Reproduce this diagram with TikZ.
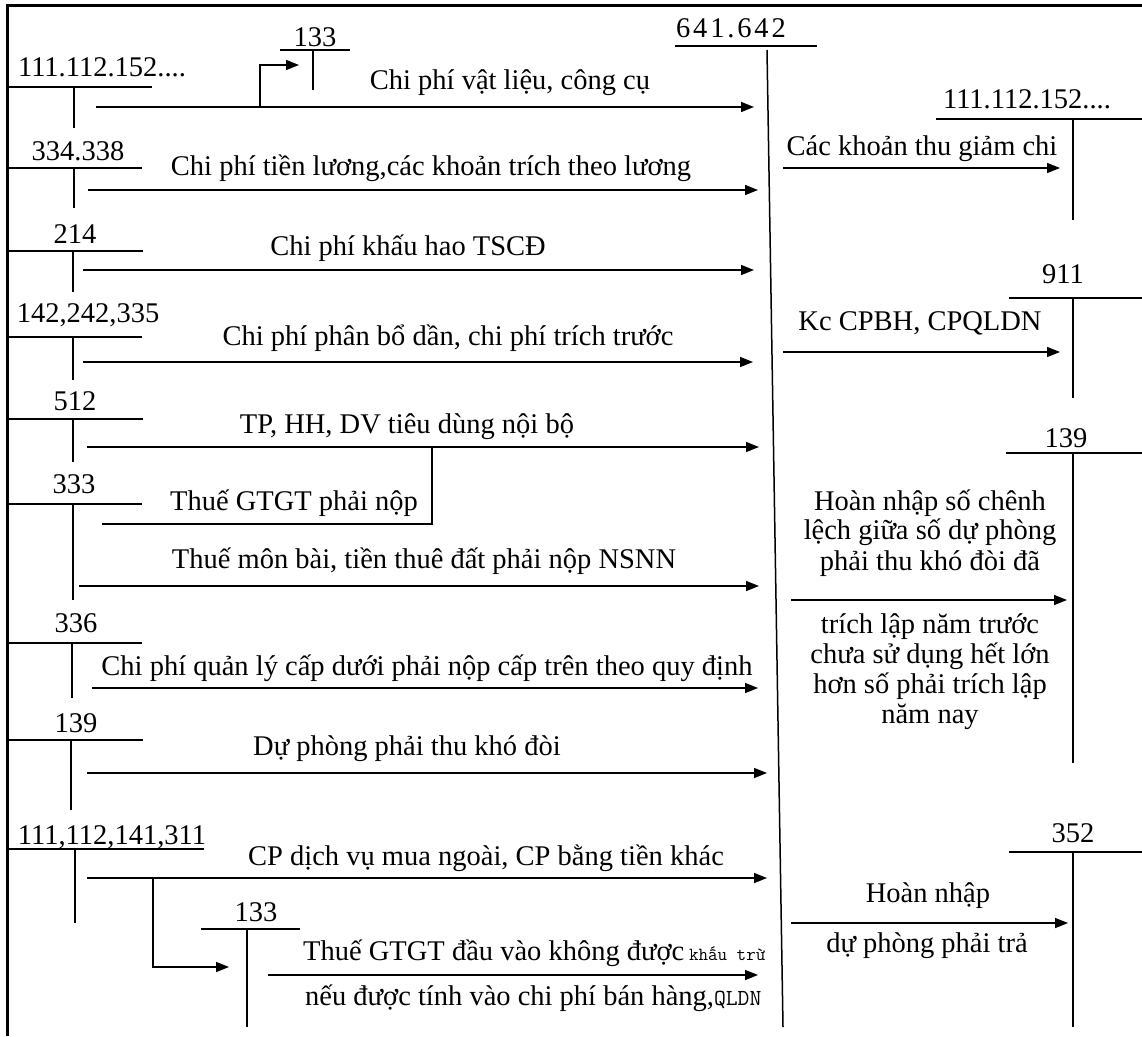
\documentclass[tikz,border=0pt]{standalone}
\usepackage{fontspec}
\setmainfont{Liberation Serif}
\newfontfamily\monofnt{Latin Modern Mono}
\usetikzlibrary{arrows.meta}
\begin{document}
\begin{tikzpicture}[x=1pt,y=-1pt,
  ln/.style={line width=1.5pt},
  arr/.style={line width=1.5pt,-{Triangle[length=13pt,width=10pt]}},
  lbl/.style={font=\fontsize{28.5}{30}\selectfont, inner sep=0pt, anchor=base},
  frameline/.style={line width=3.5pt}
]
\useasboundingbox (0,0) rectangle (1142,1036);
% frame
\coordinate (fBL) at (7.5,1036); \coordinate (fTL) at (7.5,5.5); \coordinate (fTR) at (1142,5.5);
\draw[frameline] (fBL) -- (fTL) -- (fTR);

% central account 641.642
\node[lbl] (c641) at (731,37) {\addfontfeature{LetterSpace=10}641.642};
\coordinate (cH1) at (675,46); \coordinate (cH2) at (817,46);
\coordinate (cV1) at (767,50); \coordinate (cV2) at (783,1027);
\draw[ln] (cH1) -- (cH2);
\draw[ln] (cV1) -- (cV2);

% left T-accounts
\foreach \i/\t/\cx/\by/\ly/\lr/\sx/\sb in {
  1/{111.112.152....}/102/76/87/152/74/128,
  2/{334.338}/78/160/168/142/74/208,
  3/{214}/75/243/251/143/73/292,
  4/{142,242,335}/88/322/337/142/73/380,
  5/{512}/75/410/419/143/73/462,
  6/{333}/74/493/504/142/73/600,
  7/{336}/76/632/643/142/72/698,
  8/{139}/76/732/740/143/71/810,
  9/{111,112,141,311}/112/844/849/204/75/923}
{
  \node[lbl] (L\i) at (\cx,\by) {\t};
  \coordinate (L\i a) at (8,\ly); \coordinate (L\i b) at (\lr,\ly);
  \coordinate (L\i s) at (\sx,\ly); \coordinate (L\i t) at (\sx,\sb);
  \draw[ln] (L\i a) -- (L\i b);
  \draw[ln] (L\i s) -- (L\i t);
}

% left arrows into 641.642
\foreach \i/\y/\xs/\xe/\t/\cx/\by in {
  1/107/96/754/{Chi phí vật liệu, công cụ}/510/89,
  2/190/88/758/{Chi phí tiền lương,các khoản trích theo lương}/431/175,
  3/270/83/754/{Chi phí khấu hao TSCĐ}/408/255,
  4/362/83/753/{Chi phí phân bổ dần, chi phí trích trước}/448/345,
  5/447/87/759/{TP, HH, DV tiêu dùng nội bộ}/407/433,
  6/586/79/759/{Thuế môn bài, tiền thuê đất phải nộp NSNN}/424/568,
  7/688/92/758/{Chi phí quản lý cấp dưới phải nộp cấp trên theo quy định}/427/675,
  8/773/87/767/{Dự phòng phải thu khó đòi}/407/755,
  9/878/87/767/{CP dịch vụ mua ngoài, CP bằng tiền khác}/486/865}
{
  \coordinate (A\i s) at (\xs,\y); \coordinate (A\i e) at (\xe,\y);
  \draw[arr] (A\i s) -- (A\i e);
  \node[lbl] (T\i) at (\cx,\by) {\t};
}

% top 133 account with branch
\node[lbl] (k133a) at (315,46) {133};
\coordinate (k133l) at (280,50); \coordinate (k133r) at (350,50);
\coordinate (k133s) at (313,50); \coordinate (k133t) at (313,90);
\draw[ln] (k133l) -- (k133r);
\draw[ln] (k133s) -- (k133t);
\coordinate (b1a) at (260,107); \coordinate (b1e) at (299,65);
\draw[arr] (b1a) |- (b1e);

% branch from 333 (Thue GTGT phai nop)
\coordinate (b5a) at (102,524); \coordinate (b5b) at (432,447);
\draw[ln] (b5a) -| (b5b);
\node[lbl] (T5b) at (294,510) {Thuế GTGT phải nộp};

% bottom 133 account with branch
\node[lbl] (k133b) at (256,921) {133};
\coordinate (m133l) at (201,929); \coordinate (m133r) at (300,929);
\coordinate (m133s) at (247,929); \coordinate (m133t) at (247,1027);
\draw[ln] (m133l) -- (m133r);
\draw[ln] (m133s) -- (m133t);
\coordinate (b9a) at (153,878); \coordinate (b9e) at (229,967);
\draw[arr] (b9a) |- (b9e);
\coordinate (A10s) at (268,975); \coordinate (A10e) at (758,975);
\draw[arr] (A10s) -- (A10e);
\node[lbl,anchor=base west] (T10a) at (303,960) {Thuế GTGT đầu vào không được\,{\monofnt\fontsize{18.5}{20}\selectfont khấu trừ}};
\node[lbl,anchor=base west] (T10b) at (305,1005) {nếu được tính vào chi phí bán hàng,{\monofnt\fontsize{23}{24}\selectfont QLDN}};

% right T-accounts
\foreach \i/\t/\cx/\by/\ly/\ll/\sb in {
  1/{111.112.152....}/1027/108/119/936/220,
  2/{911}/1063/283/298/1009/398,
  3/{139}/1066/447/453/1006/763,
  4/{352}/1073/842/852/1009/1027}
{
  \node[lbl] (R\i) at (\cx,\by) {\t};
  \coordinate (R\i a) at (\ll,\ly); \coordinate (R\i b) at (1142,\ly);
  \coordinate (R\i s) at (1073,\ly); \coordinate (R\i t) at (1073,\sb);
  \draw[ln] (R\i a) -- (R\i b);
  \draw[ln] (R\i s) -- (R\i t);
}

% right arrows
\foreach \i/\y/\xs/\xe in {1/168/783/1060, 2/352/783/1060, 3/600/791/1067, 4/923/791/1068}
{
  \coordinate (Q\i s) at (\xs,\y); \coordinate (Q\i e) at (\xe,\y);
  \draw[arr] (Q\i s) -- (Q\i e);
}
\node[lbl] (U1) at (922,155) {Các khoản thu giảm chi};
\node[lbl] (U2) at (920,330) {Kc CPBH, CPQLDN};
\node[lbl] (U3a) at (930,510) {Hoàn nhập số chênh};
\node[lbl] (U3b) at (930,539) {lệch giữa số dự phòng};
\node[lbl] (U3c) at (930,570) {phải thu khó đòi đã};
\node[lbl] (U3d) at (930,633) {trích lập năm trước};
\node[lbl] (U3e) at (930,663) {chưa sử dụng hết lớn};
\node[lbl] (U3f) at (930,693) {hơn số phải trích lập};
\node[lbl] (U3g) at (930,723) {năm nay};
\node[lbl] (U4a) at (928,902) {Hoàn nhập};
\node[lbl] (U4b) at (927,952) {dự phòng phải trả};
\end{tikzpicture}
\end{document}
